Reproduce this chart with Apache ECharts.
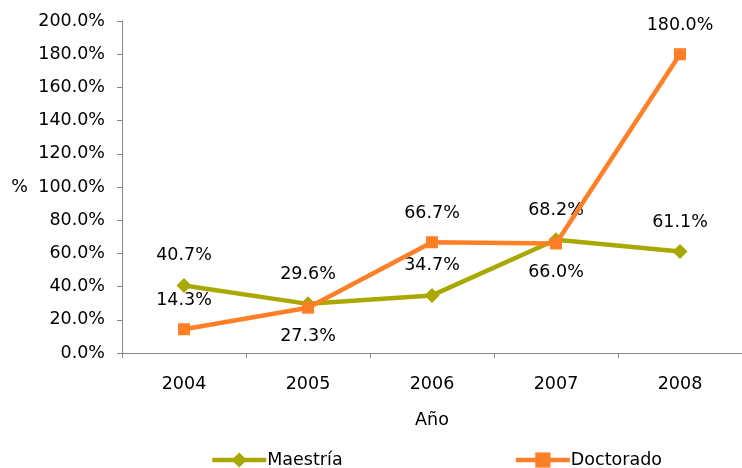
<!DOCTYPE html>
<html><head><meta charset="utf-8">
<script src="https://cdn.jsdelivr.net/npm/echarts@6/dist/echarts.min.js"></script>
<style>html,body{margin:0;padding:0;background:#fff}#c{width:742px;height:468px}</style>
</head><body><div id="c"></div>
<script>
const years = ['2004','2005','2006','2007','2008'];
const maestria = [40.7, 29.6, 34.7, 68.2, 61.1];
const doctorado = [14.3, 27.3, 66.7, 66.0, 180.0];
const doctoradoLabelPos = ['top','bottom','top','bottom','top'];

const FONT = '"DejaVu Sans", sans-serif';
const FS = 17.5;
const chart = echarts.init(document.getElementById('c'));
chart.setOption({
  animation: false,
  textStyle: { fontFamily: FONT },
  grid: { left: 122, right: 0, top: 21, bottom: 115, containLabel: false },
  legend: {
    left: 205, top: 446,
    itemWidth: 54, itemHeight: 19, itemGap: 171,
    textStyle: { fontFamily: FONT, fontSize: FS, color: '#000', padding: [0,0,0,-4] },
    lineStyle: { width: 4.5 },
    data: ['Maestría', 'Doctorado']
  },
  xAxis: {
    type: 'category', data: years, boundaryGap: true,
    name: 'Año', nameLocation: 'middle', nameGap: 58,
    nameTextStyle: { fontFamily: FONT, fontSize: FS, color: '#000' },
    axisLine: { lineStyle: { color: '#868686', width: 1 } },
    axisTick: { show: true, length: 5, lineStyle: { color: '#868686' } },
    axisLabel: { fontFamily: FONT, fontSize: FS, color: '#000', margin: 22 }
  },
  yAxis: {
    type: 'value', min: 0, max: 200, interval: 20,
    name: '%', nameLocation: 'middle', nameRotate: 0, nameGap: 94,
    nameTextStyle: { fontFamily: FONT, fontSize: FS, color: '#000' },
    splitLine: { show: false },
    axisLine: { show: true, lineStyle: { color: '#868686', width: 1 } },
    axisTick: { show: true, length: 5, lineStyle: { color: '#868686' } },
    axisLabel: { fontFamily: FONT, fontSize: FS, color: '#000', margin: 17,
      formatter: v => v.toFixed(1) + '%' }
  },
  series: [
    {
      name: 'Maestría', type: 'line', data: maestria,
      symbol: 'diamond', symbolSize: 15,
      lineStyle: { color: '#a8a800', width: 4.5 },
      itemStyle: { color: '#a8a800' },
      label: { show: true, position: 'top', distance: 13, fontFamily: FONT, fontSize: FS, color: '#000',
        formatter: p => p.value.toFixed(1) + '%' },
      z: 2
    },
    {
      name: 'Doctorado', type: 'line',
      data: doctorado.map((v, i) => ({ value: v, label: { position: doctoradoLabelPos[i] } })),
      symbol: 'rect', symbolSize: 12,
      lineStyle: { color: '#ff7f27', width: 4.5 },
      itemStyle: { color: '#ff7f27' },
      label: { show: true, position: 'top', distance: 14, fontFamily: FONT, fontSize: FS, color: '#000',
        formatter: p => p.value.toFixed(1) + '%' },
      z: 3
    }
  ]
});
</script></body></html>
